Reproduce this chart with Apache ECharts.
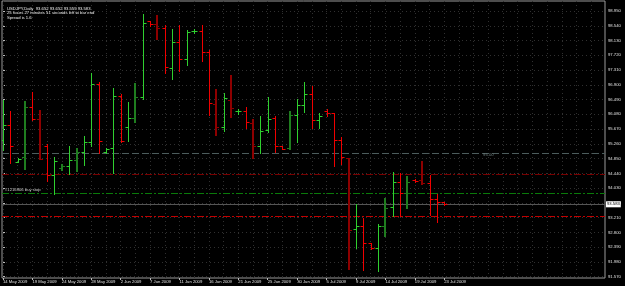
<!DOCTYPE html>
<html><head><meta charset="utf-8">
<script src="https://cdn.jsdelivr.net/npm/echarts@6/dist/echarts.min.js"></script>
<style>html,body{margin:0;padding:0;background:#000;}#c{width:625px;height:286px;}</style>
</head><body><div id="c"></div>
<script>
// ---- data ----
const dates = ["14 May 2009","15 May 2009","17 May 2009","18 May 2009","19 May 2009","20 May 2009","21 May 2009","22 May 2009",
"24 May 2009","25 May 2009","26 May 2009","27 May 2009","28 May 2009","29 May 2009","31 May 2009","1 Jun 2009",
"2 Jun 2009","3 Jun 2009","4 Jun 2009","5 Jun 2009","7 Jun 2009","8 Jun 2009","9 Jun 2009","10 Jun 2009",
"11 Jun 2009","12 Jun 2009","14 Jun 2009","15 Jun 2009","16 Jun 2009","17 Jun 2009","18 Jun 2009","19 Jun 2009",
"21 Jun 2009","22 Jun 2009","23 Jun 2009","24 Jun 2009","25 Jun 2009","26 Jun 2009","28 Jun 2009","29 Jun 2009",
"30 Jun 2009","1 Jul 2009","2 Jul 2009","3 Jul 2009","5 Jul 2009","6 Jul 2009","7 Jul 2009","8 Jul 2009",
"9 Jul 2009","10 Jul 2009","12 Jul 2009","13 Jul 2009","14 Jul 2009","15 Jul 2009","16 Jul 2009","17 Jul 2009",
"19 Jul 2009","20 Jul 2009","21 Jul 2009","22 Jul 2009","23 Jul 2009"];
const opens  = [95.367,95.783,94.756,94.886,96.275,95.942,95.200,94.403,94.589,94.645,94.811,95.034,95.320,96.922,95.034,95.136,
96.589,95.736,95.970,96.553,98.672,98.581,98.470,97.358,98.081,97.617,98.386,98.403,97.803,96.358,95.736,96.478,
96.172,96.172,95.831,95.200,95.645,95.970,95.200,95.136,96.061,96.331,96.636,95.922,96.172,96.108,95.367,94.858,
92.886,92.978,92.497,92.358,92.978,93.497,94.200,93.903,94.256,94.256,94.181,93.719,93.652];
const highs  = [96.478,96.181,94.853,96.450,96.692,96.200,95.256,94.886,94.700,95.200,95.136,95.486,97.228,96.986,95.145,96.803,
96.645,96.414,96.958,98.867,98.672,98.839,98.561,98.442,98.561,98.422,98.450,98.561,97.867,96.775,96.681,97.172,
96.228,96.292,95.950,96.033,96.570,96.033,95.200,96.172,96.506,96.986,96.867,96.117,96.219,96.108,95.442,94.867,
93.589,93.192,92.497,93.033,93.747,94.469,94.442,94.367,94.270,94.783,94.394,93.867,93.652];
const lows   = [95.089,94.736,94.742,94.553,95.922,94.831,94.219,93.858,94.533,94.414,94.514,94.664,95.208,94.997,95.006,94.459,
95.320,95.347,95.875,96.497,98.533,98.172,97.236,97.061,97.283,97.450,98.331,97.561,96.061,95.506,95.625,95.997,
96.097,95.708,94.875,95.014,95.597,95.042,95.108,95.108,95.303,96.153,95.692,95.692,96.042,94.653,94.700,91.783,
92.358,91.756,92.347,91.728,92.708,93.256,93.256,93.470,94.208,94.136,93.283,93.089,93.559];
const closes = [95.783,95.200,94.839,96.275,95.942,94.847,94.403,94.775,94.645,94.811,95.034,95.320,96.922,95.339,95.117,96.589,
95.339,95.970,96.561,98.625,98.581,98.470,97.386,98.081,97.617,98.375,98.386,97.803,96.386,95.736,96.525,96.264,
96.172,95.858,95.200,95.625,95.950,95.200,95.117,96.061,96.339,96.636,95.922,96.033,96.108,95.367,94.886,92.867,
92.978,92.514,92.358,92.978,93.486,94.200,93.903,94.200,94.228,94.181,93.719,93.645,93.583];
const priceTicks = [91.570,91.980,92.390,92.800,93.210,93.620,94.030,94.440,94.850,95.260,95.670,96.080,96.490,96.900,97.310,97.720,98.130,98.540,98.950];
const labelEvery = [0,4,8,12,16,20,24,28,32,36,40,44,48,52,56,60];
const title = ["USDJPY,Daily  93.652 93.652 93.559 93.583","25 hours 27 minutes 51 seconds left to bar end","Spread is 1.6"];
const bid = 93.583;
const orderLevel = 93.90, orderText = "#1216906 buy stop";
const stopLevel = 94.41, limitLevel = 93.24;
const roundLevel = 95.00, roundText = "95.00", roundTextAt = 66;

// ---- style ----
const UP = '#2fd02f', UP_DIM = '#1f7d1f', DN = '#f00000', DN_DIM = '#8e0000';
const dimBars = [3,5,8,10,18,21,29,31,34,39,47,52,55,57];
const X_MIN = -0.1355, X_MAX = 81.865, Y_MIN = 91.533, Y_MAX = 99.228;
const FONT = 'Liberation Sans';

const barData = dates.map((d,i)=>[i, opens[i], highs[i], lows[i], closes[i]]);
const gridX = []; for (let v = 0; v <= 80; v += 2) gridX.push(v);

function renderBar(params, api){
  const i = api.value(0);
  const o = api.coord([i, api.value(1)]);
  const h = api.coord([i, api.value(2)]);
  const l = api.coord([i, api.value(3)]);
  const c = api.coord([i, api.value(4)]);
  const up = api.value(4) >= api.value(1);
  const dim = dimBars.indexOf(i) >= 0;
  const color = up ? (dim ? UP_DIM : UP) : (dim ? DN_DIM : DN);
  const lw = dim ? 2 : 1;
  const x = dim ? Math.round(o[0]) : Math.round(o[0]) + 0.5;
  const yo = Math.round(o[1]) + 0.5, yc = Math.round(c[1]) + 0.5;
  const st = {stroke: color, lineWidth: lw};
  const t = {stroke: color, lineWidth: 1};
  return {type:'group', children:[
    {type:'line', shape:{x1:x, y1:Math.round(h[1]), x2:x, y2:Math.round(l[1])+1}, style:st},
    {type:'line', shape:{x1:x-3, y1:yo, x2:x, y2:yo}, style:t},
    {type:'line', shape:{x1:x, y1:yc, x2:x+3, y2:yc}, style:t}
  ]};
}

const chart = echarts.init(document.getElementById('c'), null, {renderer:'canvas'});
const lblFont = {fontFamily:FONT, fontSize:4.2, color:'#e0e0e0'};
chart.setOption({
  backgroundColor:'#000',
  animation:false,
  title:{text:title.join('\n'), left:2, top:1, textStyle:{fontFamily:FONT, fontSize:4.2, lineHeight:4.8, color:'#f0f0f0', fontWeight:'normal'}},
  grid:{left:0, right:20, top:1, bottom:8, show:true, borderColor:'#9a9a9a', borderWidth:1, backgroundColor:'#000'},
  xAxis:{type:'value', min:X_MIN, max:X_MAX,
    axisLine:{show:false}, splitLine:{show:false},
    axisTick:{show:true, customValues:labelEvery, length:2, lineStyle:{color:'#bbb'}},
    axisLabel:Object.assign({customValues:labelEvery, align:'left', margin:2, formatter:v=>dates[Math.round(v)]||''}, lblFont)},
  yAxis:{type:'value', position:'right', min:Y_MIN, max:Y_MAX, scale:true,
    axisLine:{show:false}, splitLine:{show:false},
    axisTick:{show:true, customValues:priceTicks, length:2, lineStyle:{color:'#bbb'}},
    axisLabel:Object.assign({customValues:priceTicks, margin:3, formatter:v=>v.toFixed(3)}, lblFont)},
  series:[
    {type:'line', data:[], silent:true, z:1,
      markLine:{silent:true, symbol:'none', animation:false, label:{show:false},
        data: priceTicks.filter(v=>v<98.99).map(v=>({yAxis:v, lineStyle:{color:'#303030', type:[1,3], width:1}}))
          .concat(gridX.map(v=>({xAxis:v, lineStyle:{color:'#303030', type:[1,3], width:1}})))}},
    {type:'line', data:[], silent:true, z:2,
      markPoint:{silent:true, symbol:'rect', symbolSize:0, animation:false,
        data:[{coord:[roundTextAt, roundLevel],
          label:{show:true, formatter:roundText, position:'bottom', distance:0, color:'#6f7f7f', fontSize:4.2, fontFamily:FONT}}]},
      markLine:{silent:true, symbol:'none', animation:false,
        data:[
          {yAxis:roundLevel, lineStyle:{color:'#4c5c5c', type:[7,3], width:1}, label:{show:false}},
          {yAxis:stopLevel, lineStyle:{color:'#7a0000', type:[7,2,2,2], width:1}, label:{show:false}},
          {yAxis:orderLevel, lineStyle:{color:'#0a7a0a', type:[7,2,2,2], width:1},
            label:{show:true, position:'insideStartTop', formatter:orderText, color:'#d0d0d0', fontSize:4.2, fontFamily:FONT, distance:[3,1]}},
          {yAxis:limitLevel, lineStyle:{color:'#c00000', type:[7,2,2,2], width:1}, label:{show:false}},
          {yAxis:bid, lineStyle:{color:'#555', type:'solid', width:1},
            label:{show:true, position:'end', formatter:bid.toFixed(3), backgroundColor:'#fff', color:'#000', fontSize:4.2, fontFamily:FONT, padding:[1,1], distance:1}}
        ]}},
    {type:'custom', renderItem:renderBar, data:barData, encode:{x:0, y:[1,2,3,4]}, z:5, clip:true}
  ]
});
</script></body></html>
